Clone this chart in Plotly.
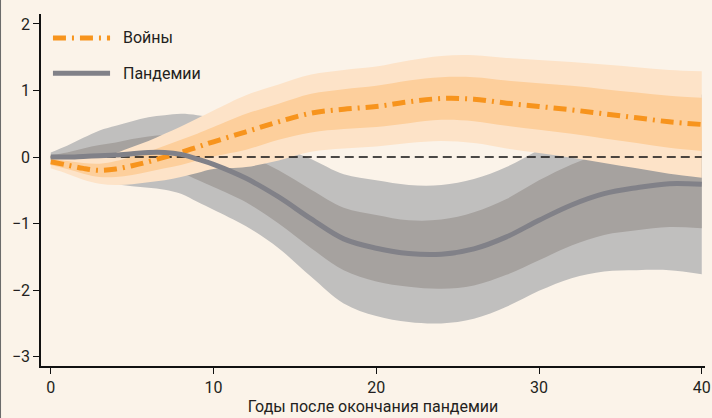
import plotly.graph_objects as go

# years after the end of the pandemic
years = [0, 1, 2, 3, 4, 5, 6, 7, 8, 9, 10, 12, 14, 16, 18, 20, 22, 24, 26, 28, 30, 32, 34, 36, 38, 40]

# wars ("Войны")
war_mid = [-0.07, -0.12, -0.17, -0.20, -0.18, -0.13, -0.07, 0.00, 0.07, 0.15, 0.23, 0.38, 0.53, 0.66, 0.72, 0.76, 0.83, 0.88, 0.87, 0.81, 0.76, 0.71, 0.65, 0.59, 0.53, 0.49]
war_in_hi = [-0.02, -0.06, -0.09, -0.10, -0.06, 0.01, 0.08, 0.17, 0.26, 0.35, 0.45, 0.65, 0.80, 0.95, 1.02, 1.07, 1.15, 1.20, 1.20, 1.15, 1.11, 1.07, 1.02, 0.97, 0.92, 0.89]
war_in_lo = [-0.12, -0.18, -0.25, -0.30, -0.30, -0.27, -0.22, -0.17, -0.12, -0.05, 0.01, 0.11, 0.26, 0.37, 0.42, 0.45, 0.51, 0.56, 0.54, 0.47, 0.41, 0.35, 0.28, 0.21, 0.14, 0.09]
war_out_hi = [0.03, 0.01, 0.00, 0.00, 0.06, 0.15, 0.24, 0.35, 0.46, 0.58, 0.70, 0.93, 1.09, 1.24, 1.31, 1.36, 1.45, 1.52, 1.53, 1.49, 1.46, 1.43, 1.39, 1.35, 1.31, 1.29]
war_out_lo = [-0.17, -0.25, -0.34, -0.40, -0.42, -0.41, -0.38, -0.35, -0.30, -0.24, -0.18, -0.15, -0.05, 0.08, 0.13, 0.16, 0.21, 0.24, 0.21, 0.13, 0.06, -0.01, -0.09, -0.17, -0.25, -0.31]

# pandemics ("Пандемии")
pan_mid = [0.00, 0.00, 0.01, 0.02, 0.03, 0.05, 0.07, 0.07, 0.04, -0.03, -0.11, -0.32, -0.60, -0.93, -1.23, -1.37, -1.45, -1.46, -1.38, -1.20, -0.95, -0.72, -0.55, -0.46, -0.40, -0.41]
pan_in_hi = [0.03, 0.07, 0.13, 0.18, 0.22, 0.27, 0.31, 0.33, 0.34, 0.30, 0.25, 0.04, -0.20, -0.49, -0.76, -0.87, -0.95, -0.94, -0.83, -0.63, -0.35, -0.11, 0.07, 0.18, 0.25, 0.25]
pan_in_lo = [-0.03, -0.07, -0.11, -0.14, -0.16, -0.17, -0.17, -0.19, -0.24, -0.34, -0.45, -0.68, -1.00, -1.37, -1.70, -1.87, -1.95, -1.98, -1.93, -1.77, -1.55, -1.33, -1.17, -1.10, -1.05, -1.07]
pan_out_hi = [0.07, 0.17, 0.29, 0.40, 0.47, 0.54, 0.60, 0.63, 0.65, 0.63, 0.59, 0.40, 0.17, -0.03, -0.26, -0.35, -0.42, -0.42, -0.33, -0.15, 0.11, 0.38, 0.62, 0.78, 0.90, 0.94]
pan_out_lo = [-0.07, -0.17, -0.27, -0.36, -0.41, -0.44, -0.46, -0.49, -0.55, -0.67, -0.79, -1.04, -1.37, -1.80, -2.20, -2.39, -2.48, -2.50, -2.43, -2.25, -2.01, -1.82, -1.72, -1.70, -1.70, -1.76]

x_ticks = [0, 10, 20, 30, 40]
y_ticks = [-3, -2, -1, 0, 1, 2]

BG = "#FBF3E9"
FONT = "Roboto, Liberation Sans, sans-serif"
ORANGE = "#F7941D"
GRAY = "#818188"
WAR_DASH = "13px,6px,2px,6px"


def band(fig, lo, hi, color):
    fig.add_trace(go.Scatter(x=years, y=lo, mode="lines", line=dict(width=0, shape="spline"),
                             showlegend=False, hoverinfo="skip"))
    fig.add_trace(go.Scatter(x=years, y=hi, mode="lines", line=dict(width=0, shape="spline"),
                             fill="tonexty", fillcolor=color, showlegend=False, hoverinfo="skip"))


fig = go.Figure()

band(fig, pan_out_lo, pan_out_hi, "#C0BFBE")
band(fig, pan_in_lo, pan_in_hi, "#A6A29F")
band(fig, war_out_lo, war_out_hi, "#FDE3C8")
band(fig, war_in_lo, war_in_hi, "#FDCF9C")

# zero reference line
fig.add_trace(go.Scatter(x=[years[0], years[-1]], y=[0, 0], mode="lines",
                         line=dict(color="#111111", width=1.6, dash="9px,5px"),
                         showlegend=False, hoverinfo="skip"))

fig.add_trace(go.Scatter(x=years, y=war_mid, mode="lines", name="Войны", showlegend=False,
                         line=dict(color=ORANGE, width=5, dash=WAR_DASH, shape="spline")))
fig.add_trace(go.Scatter(x=years, y=pan_mid, mode="lines", name="Пандемии", showlegend=False,
                         line=dict(color=GRAY, width=5, shape="spline")))

# hand-drawn legend (longer key lines than plotly's own legend)
legend_items = [("Войны", ORANGE, WAR_DASH, 0.932), ("Пандемии", GRAY, "solid", 0.832)]
shapes = [dict(type="line", xref="paper", yref="paper", x0=-0.0617, x1=-0.0617, y0=-0.2, y1=1.1,
               line=dict(color="#6B6B6B", width=2))]
annotations = []
for label, color, dash, ypos in legend_items:
    shapes.append(dict(type="line", xref="paper", yref="paper", x0=0.018, x1=0.104, y0=ypos, y1=ypos,
                       line=dict(color=color, width=5, dash=dash)))
    annotations.append(dict(text=label, xref="paper", yref="paper", x=0.121, y=ypos,
                            xanchor="left", yanchor="middle", showarrow=False,
                            font=dict(size=16)))

fig.update_layout(
    width=712, height=418,
    margin=dict(l=41, r=7, t=14, b=52),
    paper_bgcolor=BG, plot_bgcolor=BG,
    font=dict(family=FONT, size=16, color="#231F20"),
    showlegend=False,
    xaxis=dict(range=[-0.6, 40.2], tickvals=x_ticks, showgrid=False, zeroline=False,
               showline=True, linecolor="#111111", linewidth=1.5, automargin=False,
               ticks="outside", ticklen=6, tickcolor="#111111",
               title=dict(text="Годы после окончания пандемии", standoff=4, font=dict(size=16))),
    yaxis=dict(range=[-3.14, 2.15], tickvals=y_ticks, showgrid=False, zeroline=False,
               showline=True, linecolor="#111111", linewidth=1.5, automargin=False,
               ticks="outside", ticklen=6, tickcolor="#111111"),
    shapes=shapes,
    annotations=annotations,
)

fig.write_html("out.html", config={"displayModeBar": False},
               post_script="document.body.style.margin='0';document.body.style.background='%s';" % BG)
